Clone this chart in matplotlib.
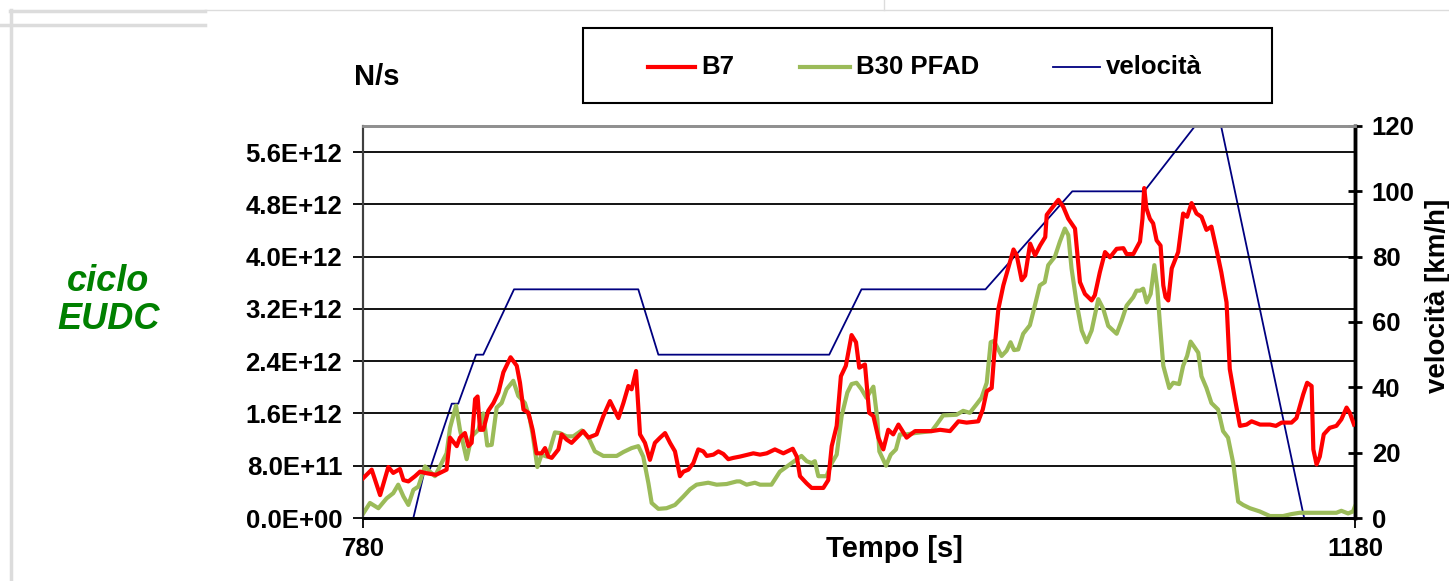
import numpy as np
import matplotlib
matplotlib.use("Agg")
import matplotlib.pyplot as plt
from matplotlib.lines import Line2D
from matplotlib.patches import Rectangle
from matplotlib.ticker import FuncFormatter

plt.rcParams['font.family'] = ['Liberation Sans', 'DejaVu Sans']

# ---- data (values in 1E12 N/s) ----
b7_t = [780.1, 783.5, 786.9, 790.2, 792.2, 794.9, 796.3, 798.3, 801.0, 803.0, 805.0, 809.4, 813.7,
        815.1, 817.8, 819.1, 821.1, 822.5, 823.8, 825.2, 826.2, 827.2, 828.5, 830.5, 832.6, 834.6,
        836.6, 839.5, 842.0, 843.3, 844.7, 846.7, 848.4, 850.0, 852.0, 853.4, 854.7, 856.1, 858.8,
        860.1, 862.1, 864.1, 866.2, 868.8, 870.9, 874.2, 876.9, 879.6, 883.0, 885.0, 887.0, 888.3,
        890.1, 891.7, 893.7, 895.7, 897.7, 899.8, 901.8, 903.8, 905.8, 907.8, 909.2, 911.2, 913.2,
        915.2, 917.2, 918.6, 921.3, 923.3, 925.3, 927.3, 929.3, 932.0, 937.4, 940.1, 942.8, 946.1,
        949.5, 953.3, 954.9, 956.2, 958.9, 960.9, 965.6, 967.6, 969.0, 971.0, 972.7, 974.7, 977.0,
        978.8, 980.1, 982.4, 984.1, 985.8, 987.8, 989.8, 991.8, 993.8, 995.9, 999.2, 1002.6, 1009.3,
        1012.7, 1016.7, 1020.1, 1023.4, 1028.1, 1029.9, 1031.5, 1033.5, 1034.9, 1036.2, 1038.2,
        1040.9, 1042.3, 1043.6, 1045.6, 1047.0, 1049.0, 1051.0, 1053.0, 1055.1, 1055.7, 1057.7,
        1060.4, 1062.4, 1064.4, 1067.1, 1069.1, 1071.1, 1073.8, 1075.1, 1077.1, 1079.2, 1081.2,
        1083.9, 1086.6, 1087.9, 1090.6, 1093.3, 1094.3, 1095.0, 1095.9, 1097.3, 1098.6, 1100.0,
        1101.6, 1102.7, 1103.6, 1104.7, 1106.1, 1108.7, 1110.7, 1112.3, 1114.1, 1116.1, 1118.1,
        1120.1, 1122.1, 1124.1, 1126.1, 1128.2, 1129.5, 1131.6, 1133.6, 1136.3, 1138.3, 1141.7,
        1145.7, 1148.1, 1150.4, 1154.4, 1156.4, 1159.1, 1160.7, 1162.5, 1163.2, 1164.5, 1165.8,
        1167.4, 1169.8, 1172.5, 1174.5, 1176.6, 1177.9, 1179.6]
b7_v = [0.61, 0.74, 0.35, 0.78, 0.69, 0.75, 0.58, 0.56, 0.64, 0.71, 0.69, 0.66, 0.74,
        1.23, 1.10, 1.23, 1.30, 1.10, 1.15, 1.82, 1.86, 1.35, 1.35, 1.64, 1.76, 1.92,
        2.23, 2.46, 2.33, 2.07, 1.66, 1.61, 1.35, 0.99, 0.99, 1.07, 0.94, 0.92, 1.05,
        1.28, 1.20, 1.15, 1.23, 1.33, 1.23, 1.28, 1.56, 1.79, 1.53, 1.76, 2.02, 1.97,
        2.25, 1.28, 1.15, 0.89, 1.15, 1.23, 1.30, 1.15, 1.02, 0.64, 0.71, 0.74, 0.84,
        1.05, 1.02, 0.95, 0.97, 1.02, 0.98, 0.90, 0.92, 0.94, 0.99, 0.97, 0.99, 1.05,
        0.99, 1.06, 0.94, 0.64, 0.53, 0.46, 0.46, 0.58, 1.10, 1.41, 2.17, 2.33, 2.80,
        2.69, 2.30, 2.35, 1.61, 1.56, 1.23, 1.05, 1.35, 1.28, 1.43, 1.23, 1.33, 1.33,
        1.35, 1.33, 1.48, 1.46, 1.48, 1.66, 1.94, 1.99, 2.69, 3.20, 3.56,
        3.92, 4.11, 4.02, 3.64, 3.71, 4.20, 4.02, 4.17, 4.30, 4.64, 4.74,
        4.87, 4.76, 4.58, 4.43, 3.61, 3.43, 3.33, 3.41, 3.76, 4.07, 3.99,
        4.12, 4.13, 4.04, 4.04, 4.23, 4.58, 5.05, 4.74, 4.58, 4.51, 4.25,
        4.17, 3.56, 3.38, 3.33, 3.82, 4.07, 4.66, 4.61, 4.82, 4.66, 4.61,
        4.41, 4.46, 4.12, 3.76, 3.30, 2.28, 1.82, 1.41, 1.43, 1.48, 1.43,
        1.43, 1.41, 1.46, 1.46, 1.53, 1.89, 2.07, 2.02, 1.05, 0.82, 0.94,
        1.28, 1.38, 1.41, 1.51, 1.69, 1.61, 1.43]

b30_t = [780.1, 782.8, 786.2, 789.5, 792.2, 794.2, 796.3, 798.3, 800.3, 802.3, 805.0, 807.0, 809.0,
         811.7, 813.7, 815.1, 817.5, 819.1, 821.8, 823.8, 826.5, 828.5, 830.1, 831.9, 833.9, 835.9,
         837.9, 840.6, 842.6, 845.3, 847.3, 848.4, 850.3, 852.0, 854.1, 855.4, 857.4, 859.4, 862.1,
         864.8, 868.2, 870.9, 873.5, 876.9, 882.3, 885.0, 888.3, 891.0, 893.0, 895.1, 896.4, 899.1,
         902.4, 905.8, 909.2, 911.9, 914.5, 919.2, 922.6, 926.6, 930.7, 932.0, 934.7, 938.0, 940.1,
         944.7, 948.1, 952.1, 956.8, 958.9, 960.9, 962.2, 963.6, 966.9, 969.0, 971.0, 973.0, 975.3,
         977.0, 979.0, 981.0, 983.0, 985.8, 987.4, 988.2, 990.9, 992.8, 994.9, 996.5, 999.2, 1002.6,
         1009.3, 1011.3, 1013.9, 1019.3, 1022.0, 1024.7, 1027.4, 1029.4, 1031.5, 1033.1, 1034.4,
         1037.5, 1039.5, 1041.1, 1042.5, 1044.2, 1046.2, 1048.9, 1050.9, 1052.9, 1054.9, 1056.3,
         1059.0, 1061.0, 1063.0, 1064.4, 1065.7, 1067.7, 1069.8, 1071.8, 1073.8, 1076.5, 1078.5,
         1080.5, 1082.5, 1083.9, 1085.9, 1087.9, 1090.6, 1091.9, 1093.3, 1094.6, 1096.0, 1097.6,
         1099.1, 1100.3, 1101.3, 1102.7, 1105.1, 1106.7, 1109.1, 1110.7, 1112.3, 1113.7, 1115.0,
         1116.8, 1118.1, 1120.1, 1122.1, 1124.8, 1126.8, 1128.8, 1130.9, 1132.9, 1134.9, 1137.6,
         1141.6, 1145.7, 1151.0, 1154.4, 1157.7, 1164.5, 1172.5, 1174.5, 1177.2, 1179.2, 1179.9]
b30_v = [0.07, 0.23, 0.15, 0.30, 0.38, 0.51, 0.33, 0.20, 0.43, 0.48, 0.79, 0.71, 0.64,
         0.84, 0.99, 1.38, 1.72, 1.35, 0.90, 1.25, 1.35, 1.60, 1.11, 1.12, 1.69, 1.76,
         1.97, 2.10, 1.87, 1.76, 1.51, 1.28, 0.78, 0.97, 0.94, 1.05, 1.31, 1.30, 1.25,
         1.25, 1.34, 1.23, 1.02, 0.95, 0.95, 1.01, 1.07, 1.10, 0.94, 0.53, 0.23, 0.14,
         0.15, 0.20, 0.33, 0.44, 0.51, 0.54, 0.51, 0.52, 0.56, 0.56, 0.51, 0.54, 0.51,
         0.51, 0.71, 0.82, 0.95, 0.87, 0.84, 0.87, 0.64, 0.64, 0.84, 0.97, 1.56, 1.92,
         2.05, 2.07, 1.97, 1.84, 2.01, 1.51, 1.02, 0.80, 0.97, 1.05, 1.28, 1.28, 1.30,
         1.33, 1.43, 1.57, 1.58, 1.64, 1.61, 1.74, 1.84, 2.07, 2.69, 2.71,
         2.48, 2.56, 2.69, 2.57, 2.58, 2.82, 2.95, 3.25, 3.56, 3.61, 3.87,
         4.00, 4.23, 4.43, 4.33, 3.82, 3.30, 2.87, 2.69, 2.87, 3.35, 3.20,
         2.94, 2.87, 2.82, 3.02, 3.25, 3.38, 3.48, 3.48, 3.51, 3.30, 3.43,
         3.87, 3.51, 2.99, 2.33, 1.99, 2.07, 2.05, 2.33, 2.48, 2.70, 2.63,
         2.53, 2.17, 1.99, 1.76, 1.66, 1.33, 1.23, 0.84, 0.25, 0.20, 0.15,
         0.10, 0.03, 0.03, 0.06, 0.08, 0.08, 0.08, 0.11, 0.07, 0.10, 0.17]

vel_t = [780, 800.3, 805, 807, 815.8, 818.4, 825.6, 828.5, 840.9, 891, 899.1, 968, 981,
         1031, 1066, 1095, 1115.5, 1126, 1159.5, 1180]
vel_v = [0, 0, 15, 15, 35, 35, 50, 50, 70, 70, 50, 50, 70,
         70, 100, 100, 120, 120, 0, 0]

left_ticks = [0, 0.8e12, 1.6e12, 2.4e12, 3.2e12, 4.0e12, 4.8e12, 5.6e12]
right_ticks = [0, 20, 40, 60, 80, 100, 120]
x_ticks = [780, 1180]
series_names = ['B7', 'B30 PFAD', 'velocità']
series_colors = ['#ff0000', '#9bbb59', '#000080']
series_widths = [3, 3, 1.3]

W, H = 1449, 581
fig = plt.figure(figsize=(W / 100, H / 100), dpi=100)

def fx(px):
    return px / W

def fy(py):
    return 1 - py / H

# decorative frame lines (page background)
gray = '#dcdcdc'
fig.add_artist(Line2D([fx(10), fx(205)], [fy(11), fy(11)], color=gray, lw=2.5))
fig.add_artist(Line2D([fx(205), fx(1449)], [fy(10), fy(10)], color=gray, lw=1))
fig.add_artist(Line2D([fx(0), fx(205)], [fy(25), fy(25)], color=gray, lw=2.5))
fig.add_artist(Line2D([fx(11), fx(11)], [fy(10), fy(581)], color=gray, lw=2.5))
fig.add_artist(Line2D([fx(884), fx(884)], [fy(0), fy(10)], color=gray, lw=1))

ax = fig.add_axes([fx(363), fy(518), fx(1355) - fx(363), fy(126) - fy(518)])
ax2 = ax.twinx()

ax.set_xlim(780, 1180)
ax.set_ylim(0, 6.0e12)
ax2.set_ylim(0, 120)

for v in left_ticks[1:]:
    ax.axhline(v, color='black', lw=1.3, zorder=1)

ax.plot(b7_t, np.array(b7_v) * 1e12, color=series_colors[0], lw=series_widths[0], zorder=3)
ax.plot(b30_t, np.array(b30_v) * 1e12, color=series_colors[1], lw=series_widths[1], zorder=2)
ax2.plot(vel_t, vel_v, color=series_colors[2], lw=series_widths[2], zorder=4)
ax.set_zorder(ax2.get_zorder() + 1)
ax.patch.set_visible(False)

ax.set_yticks(left_ticks)
ax.yaxis.set_major_formatter(FuncFormatter(lambda v, p: '{:.1E}'.format(v)))
ax2.set_yticks(right_ticks)
ax.set_xticks(x_ticks)

FS = 18.5
for lab in ax.get_yticklabels() + ax2.get_yticklabels() + ax.get_xticklabels():
    lab.set_fontsize(FS)
    lab.set_fontweight('bold')

ax.tick_params(axis='y', direction='out', length=7, width=1.3, pad=8)
ax.tick_params(axis='x', direction='out', length=7, width=1.3, pad=7)
ax2.tick_params(axis='y', direction='inout', length=10, width=2, pad=7)

for a in (ax, ax2):
    a.spines['top'].set_color('#909090')
    a.spines['top'].set_linewidth(2)
    a.spines['bottom'].set_color('black')
    a.spines['bottom'].set_linewidth(2)
    a.spines['left'].set_color('#404040')
    a.spines['left'].set_linewidth(1.5)
    a.spines['right'].set_color('black')
    a.spines['right'].set_linewidth(2.5)

ax.set_xlabel('Tempo [s]', fontsize=21, fontweight='bold', va='center')
ax.xaxis.set_label_coords((894 - 363) / 992, (518 - 549) / 392)
ax2.set_ylabel('velocità [km/h]', fontsize=20, fontweight='bold', rotation=90, va='center')
ax2.yaxis.set_label_coords((1438 - 363) / 992, (518 - 296) / 392)

fig.text(fx(377), fy(77), 'N/s', fontsize=21, fontweight='bold', ha='center', va='center')
fig.text(fx(108), fy(281), 'ciclo', fontsize=26, fontweight='bold', style='italic',
         color='#008000', ha='center', va='center')
fig.text(fx(109), fy(320), 'EUDC', fontsize=26, fontweight='bold', style='italic',
         color='#008000', ha='center', va='center')

# legend box (drawn manually to match layout)
fig.add_artist(Rectangle((fx(583), fy(103)), fx(1272) - fx(583), fy(28) - fy(103),
                         transform=fig.transFigure, facecolor='white', edgecolor='black', lw=1.5))
ly = fy(67)
for name, col, lw, x0, x1 in zip(series_names, series_colors, series_widths,
                                 [648, 800, 1053], [695, 850, 1100]):
    fig.add_artist(Line2D([fx(x0), fx(x1)], [ly, ly], color=col, lw=lw))
    fig.text(fx(x1 + 6), ly, name, fontsize=FS, fontweight='bold', ha='left', va='center')

fig.savefig('out.png', dpi=100)
